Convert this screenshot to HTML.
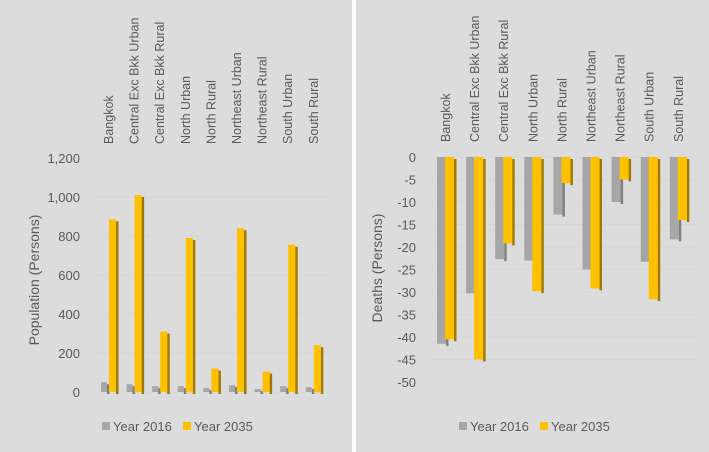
<!DOCTYPE html>
<html><head><meta charset="utf-8"><style>
html,body{margin:0;padding:0;background:#fff;}
svg{display:block;font-family:"Liberation Sans",sans-serif;}
</style></head><body>
<svg id="c" width="709" height="452">
<rect x="0" y="0" width="352" height="452" fill="#dcdcdc"/>
<rect x="356" y="0" width="353" height="452" fill="#dcdcdc"/>
<g id="L"></g><g id="R"></g>
</svg>
<script>
const categories=["Bangkok","Central Exc Bkk Urban","Central Exc Bkk Rural","North Urban","North Rural","Northeast Urban","Northeast Rural","South Urban","South Rural"];
const pop2016=[50,40,30,30,20,35,15,30,25];
const pop2035=[885,1010,310,790,120,840,105,755,240];
const popTicks=[0,200,400,600,800,1000,1200];
const popTickLabels=["0","200","400","600","800","1,000","1,200"];
const death2016=[-41.5,-30.3,-22.7,-23,-12.8,-25,-10,-23.3,-18.3];
const death2035=[-40.5,-45,-19.2,-29.8,-5.8,-29.2,-5,-31.6,-14];
const deathTicks=[0,-5,-10,-15,-20,-25,-30,-35,-40,-45,-50];
const NS="http://www.w3.org/2000/svg";
function mk(p,t,a,txt){const e=document.createElementNS(NS,t);for(const k in a)e.setAttribute(k,a[k]);if(txt!==undefined)e.textContent=txt;p.appendChild(e);return e;}
function drawChart(g,o){
  const y=v=>o.y0+(v-o.v0)*(o.y1-o.y0)/(o.v1-o.v0);
  const x=i=>o.x0+i*o.pitch;
  o.ticks.forEach((t,i)=>{
    const ln=mk(g,'line',{x1:o.x0-6,x2:o.gridEnd,y1:y(t),y2:y(t),stroke:'#d6d6d6','stroke-width':1});
    
    
    const tx=mk(g,'text',{x:o.tickX,y:y(t)+5,'text-anchor':'end','font-size':13,fill:'#595959'},o.labels[i]);
    
    
  });
  categories.forEach((c,i)=>{
    const cx=x(i)+o.labelOff;
    const tx=mk(g,'text',{x:0,y:0,transform:`translate(${cx},${o.labelBottom}) rotate(-90)`,'font-size':12.5,fill:'#595959'},c);
    
    
    [[o.s1,'#a6a6a6','#7f7f7f',o.g1,o.w1],[o.s2,'#ffc000','#a07800',o.g2,o.w2]].forEach(([s,col,dark,off,w])=>{
      const v=s[i];const ya=y(0),yb=y(v);const top=Math.min(ya,yb),h=Math.max(1,Math.abs(yb-ya));
      const bx=x(i)+off;
      const sh=mk(g,'rect',{x:bx+w,y:top+2,width:2.5,height:h,fill:dark});
      
      
      const b=mk(g,'rect',{x:bx,y:top,width:w,height:h,fill:col});
      
      
    });
  });
  const t=mk(g,'text',{x:0,y:0,transform:`translate(${o.titleX},${o.titleY}) rotate(-90)`,'text-anchor':'middle','font-size':14,fill:'#595959'},o.title);
  
  
  const lg=mk(g,'g',{});
  
  
  mk(lg,'rect',{x:o.legX,y:422,width:8,height:8,fill:'#a6a6a6'});
  const a=mk(lg,'text',{x:o.legX+11,y:431,'font-size':13,fill:'#595959'},'Year 2016');
  
  
  mk(lg,'rect',{x:o.legX+81,y:422,width:8,height:8,fill:'#ffc000'});
  const b=mk(lg,'text',{x:o.legX+92,y:431,'font-size':13,fill:'#595959'},'Year 2035');
  
  
}
drawChart(document.getElementById('L'),{v0:0,v1:1200,y0:392,y1:158,x0:100,pitch:25.6,ticks:popTicks,labels:popTickLabels,tickX:80,gridEnd:330,s1:pop2016,s2:pop2035,g1:1,w1:6,g2:9,w2:7,labelOff:13,labelBottom:144,title:'Population (Persons)',titleX:39,titleY:280,legX:102});
drawChart(document.getElementById('R'),{v0:0,v1:-50,y0:157,y1:382,x0:437,pitch:29.1,ticks:deathTicks,labels:deathTicks.map(String),tickX:416,gridEnd:698,s1:death2016,s2:death2035,g1:0,w1:9,g2:8,w2:9,labelOff:13,labelBottom:142,title:'Deaths (Persons)',titleX:382,titleY:268,legX:459});
</script>
</body></html>
